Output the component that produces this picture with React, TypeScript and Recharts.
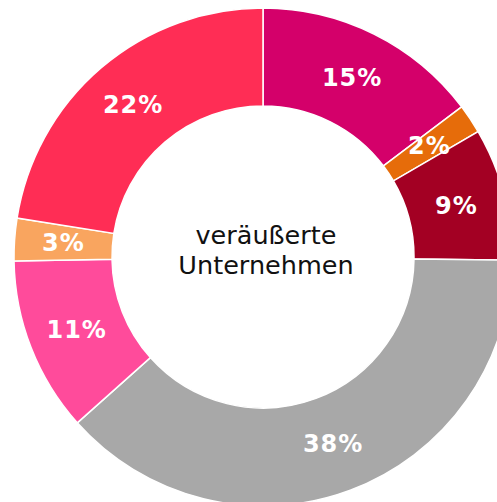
import { Cell, Pie, PieChart } from "recharts"

const segments = ["A", "B", "C", "D", "E", "F", "G"]
const shares = [14.7, 1.9, 8.6, 38.2, 11.35, 2.75, 22.5]
const shareLabels = ["15%", "2%", "9%", "38%", "11%", "3%", "22%"]
const colors = ["#d4006a", "#e66c0a", "#a30023", "#a8a8a8", "#ff4b9b", "#f9a55f", "#ff2d55"]
const centerLines = ["veräußerte", "Unternehmen"]

const data = segments.map((name, i) => ({ name, value: shares[i], label: shareLabels[i] }))

// the donut runs off the right and bottom edges, so drop the default body margin
if (typeof document !== "undefined") document.body.style.margin = "0"

const RAD = Math.PI / 180
const FONT = "'DejaVu Sans', Verdana, sans-serif"
const W = 497
const H = 502
const CX = 263
const CY = 257

const renderLabel = (props: any) => {
  const { cx, cy, midAngle, innerRadius, outerRadius, payload } = props
  const r = (innerRadius + outerRadius) / 2
  const x = cx + r * Math.cos(-midAngle * RAD)
  const y = cy + r * Math.sin(-midAngle * RAD)
  return (
    <text
      x={x}
      y={y}
      fill="#fff"
      textAnchor="middle"
      dominantBaseline="central"
      fontFamily={FONT}
      fontWeight="bold"
      fontSize={24}
      letterSpacing={1}
    >
      {payload.label}
    </text>
  )
}

export default function App() {
  return (
    <div style={{ position: "relative", width: W, height: H, overflow: "hidden" }}>
      <PieChart width={W} height={H} margin={{ top: 0, right: 0, bottom: 0, left: 0 }}>
        <Pie
          data={data}
          dataKey="value"
          cx={CX}
          cy={CY}
          innerRadius={151}
          outerRadius={249}
          startAngle={90}
          endAngle={-270}
          stroke="#fff"
          strokeWidth={1.5}
          label={renderLabel}
          labelLine={false}
          isAnimationActive={false}
        >
          {data.map((d, i) => (
            <Cell key={d.name} fill={colors[i]} />
          ))}
        </Pie>
      </PieChart>
      <svg
        width={W}
        height={H}
        style={{ position: "absolute", left: 0, top: 0, pointerEvents: "none" }}
      >
        <text textAnchor="middle" fontFamily={FONT} fontSize={25.5} fill="#111">
          <tspan x={CX + 3} y={CY - 13}>{centerLines[0]}</tspan>
          <tspan x={CX + 3} y={CY + 17}>{centerLines[1]}</tspan>
        </text>
      </svg>
    </div>
  )
}
